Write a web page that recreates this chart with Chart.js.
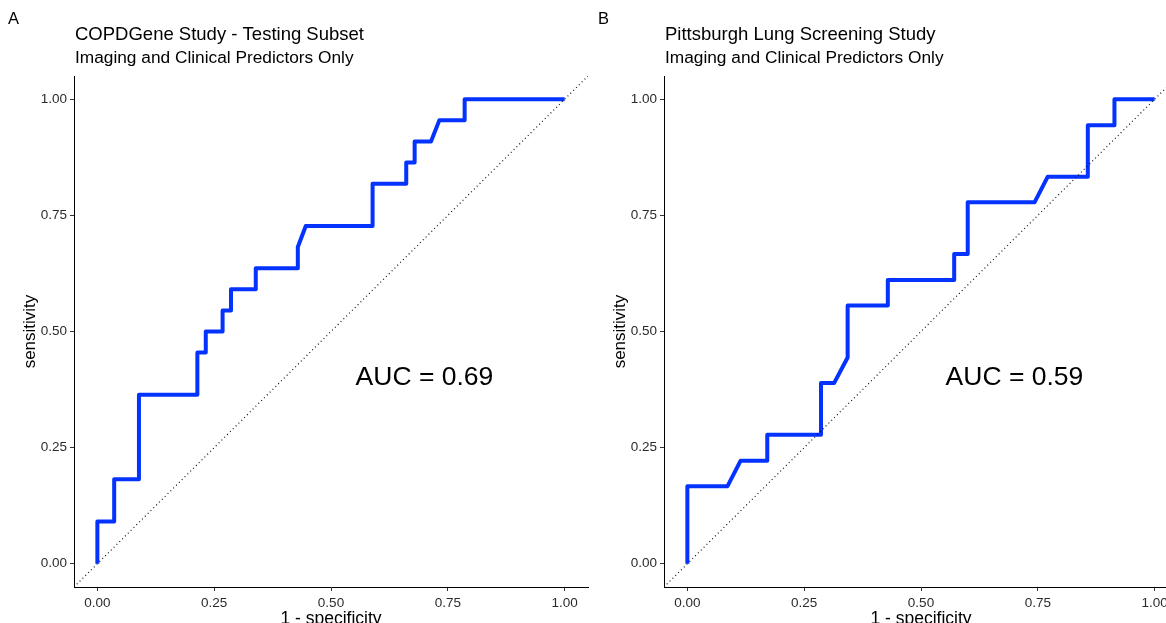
<!DOCTYPE html>
<html>
<head>
<meta charset="utf-8">
<script src="https://cdn.jsdelivr.net/npm/chart.js@4/dist/chart.umd.min.js"></script>
<style>
  html, body { margin: 0; padding: 0; background: #fff; overflow: hidden; }
  #wrap { position: relative; width: 1166px; height: 623px; overflow: hidden; }
  .panel { position: absolute; top: 0; width: 600px; height: 623px; }
  #panelA { left: 0; }
  #panelB { left: 590px; }
</style>
</head>
<body>
<div id="wrap">
  <div class="panel" id="panelA"><canvas id="rocA" width="600" height="623"></canvas></div>
  <div class="panel" id="panelB"><canvas id="rocB" width="600" height="623"></canvas></div>
</div>
<script>
// ROC curve, COPDGene testing subset (1 - specificity, sensitivity)
const copdFpr = [0, 0, 0.036, 0.036, 0.089, 0.089, 0.214, 0.214, 0.232, 0.232, 0.268, 0.268, 0.286, 0.286,
  0.339, 0.339, 0.429, 0.429, 0.446, 0.589, 0.589, 0.661, 0.661, 0.679, 0.679, 0.714, 0.732, 0.786, 0.786, 1];
const copdSens = [0, 0.091, 0.091, 0.182, 0.182, 0.364, 0.364, 0.455, 0.455, 0.5, 0.5, 0.545, 0.545, 0.591,
  0.591, 0.636, 0.636, 0.682, 0.727, 0.727, 0.818, 0.818, 0.864, 0.864, 0.909, 0.909, 0.955, 0.955, 1, 1];

// ROC curve, Pittsburgh Lung Screening Study
const pittFpr = [0, 0, 0.086, 0.114, 0.171, 0.171, 0.286, 0.286, 0.314, 0.343, 0.343, 0.429, 0.429, 0.571,
  0.571, 0.6, 0.6, 0.743, 0.771, 0.857, 0.857, 0.914, 0.914, 1];
const pittSens = [0, 0.167, 0.167, 0.222, 0.222, 0.278, 0.278, 0.389, 0.389, 0.444, 0.556, 0.556, 0.611, 0.611,
  0.667, 0.667, 0.778, 0.778, 0.833, 0.833, 0.944, 0.944, 1, 1];

// chance line
const diagX = [-0.05, 1.05];
const diagY = [-0.05, 1.05];

const tickValues = [0, 0.25, 0.5, 0.75, 1];
const panelLabels = ["A", "B"];
const titles = ["COPDGene Study - Testing Subset", "Pittsburgh Lung Screening Study"];
const subtitle = "Imaging and Clinical Predictors Only";
const aucLabels = ["AUC = 0.69", "AUC = 0.59"];

const FONT = '"Liberation Sans", Arial, Helvetica, sans-serif';

function toPoints(xs, ys) {
  return xs.map((x, i) => ({ x: x, y: ys[i] }));
}

// draws panel letter, titles and the AUC note
const textPlugin = {
  id: "panelText",
  afterDraw(chart, args, opts) {
    const ctx = chart.ctx;
    const area = chart.chartArea;
    ctx.save();
    ctx.fillStyle = "#000";
    ctx.textAlign = "left";
    ctx.textBaseline = "alphabetic";
    ctx.font = "16.5px " + FONT;
    ctx.fillText(opts.letter, 8, 24);
    ctx.font = "18.5px " + FONT;
    ctx.fillText(opts.title, area.left + 1, 40);
    ctx.font = "17.3px " + FONT;
    ctx.fillText(opts.subtitle, area.left + 1, 63);

    const xs = chart.scales.x;
    const ys = chart.scales.y;
    ctx.font = "26.5px " + FONT;
    ctx.textAlign = "center";
    ctx.textBaseline = "middle";
    ctx.fillText(opts.auc, xs.getPixelForValue(0.7), ys.getPixelForValue(0.4));
    ctx.restore();
  }
};

function axis(title, isX) {
  return {
    type: "linear",
    min: -0.05,
    max: 1.05,
    afterBuildTicks: (s) => { s.ticks = tickValues.map((v) => ({ value: v })); },
    afterFit: (s) => {
      if (isX) s.height = 36;
      else s.width = 74;
    },
    border: { display: true, color: "#000", width: 1 },
    grid: { drawOnChartArea: false, drawTicks: true, tickLength: 4, color: "#333" },
    ticks: {
      color: "#2b2b2b",
      font: { family: FONT, size: 13.5 },
      padding: isX ? 4 : 3,
      maxRotation: 0,
      autoSkip: false,
      callback: (v) => Number(v).toFixed(2)
    },
    title: {
      display: true,
      text: title,
      color: "#000",
      font: { family: FONT, size: isX ? 17.5 : 17, lineHeight: 1 },
      padding: isX ? { top: 0, bottom: -5 } : { top: 21.5, bottom: 0 }
    }
  };
}

function makeRoc(canvasId, idx, fpr, sens) {
  new Chart(document.getElementById(canvasId), {
    type: "scatter",
    data: {
      datasets: [
        {
          data: toPoints(diagX, diagY),
          showLine: true,
          borderColor: "#111",
          borderWidth: 1.2,
          borderDash: [1, 3],
          pointRadius: 0
        },
        {
          data: toPoints(fpr, sens),
          showLine: true,
          borderColor: "#0433ff",
          borderWidth: 4,
          borderJoinStyle: "round",
          borderCapStyle: "butt",
          pointRadius: 0
        }
      ]
    },
    options: {
      responsive: false,
      animation: false,
      layout: { padding: { top: 76, right: 12, bottom: 0, left: 0 } },
      plugins: {
        legend: { display: false },
        tooltip: { enabled: false },
        panelText: {
          letter: panelLabels[idx],
          title: titles[idx],
          subtitle: subtitle,
          auc: aucLabels[idx]
        }
      },
      scales: {
        x: axis("1 - specificity", true),
        y: axis("sensitivity", false)
      }
    },
    plugins: [textPlugin]
  });
}

makeRoc("rocA", 0, copdFpr, copdSens);
makeRoc("rocB", 1, pittFpr, pittSens);
</script>
</body>
</html>
